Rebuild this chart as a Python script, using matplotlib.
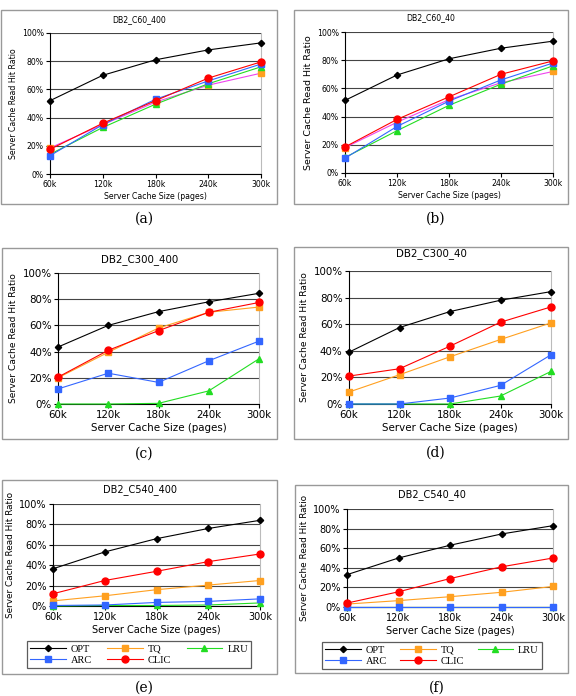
import matplotlib
matplotlib.use("Agg")
import matplotlib.pyplot as plt
from matplotlib.patches import Rectangle

plt.rcParams['font.family'] = ['DejaVu Sans']

sizes = ["60k", "120k", "180k", "240k", "300k"]
series_names = ["OPT", "TQ", "LRU", "ARC", "CLIC"]

# panel (a) DB2_C60_400
a_opt = [52, 70, 81, 88, 93]
a_tq = [18.5, 35, 51, 63, 71.5]
a_lru = [14, 33, 49.5, 64, 76]
a_arc = [13, 35, 53, 66, 78]
a_clic = [17.5, 36, 52, 68, 79.5]

# panel (b) DB2_C60_40
b_opt = [51.5, 69.5, 81, 88.5, 93.5]
b_tq = [18, 36, 52, 64, 72]
b_lru = [11, 30, 48, 63, 76]
b_arc = [10.5, 33, 51, 66, 78]
b_clic = [18.5, 38, 54, 70, 79.5]

# panel (c) DB2_C300_400
c_opt = [43.5, 60, 70.5, 78, 84.5]
c_tq = [20, 39.5, 58, 70, 74]
c_lru = [0, 0, 0.5, 10, 34.5]
c_arc = [11.5, 23.5, 16.5, 33, 48]
c_clic = [20.5, 41, 56, 70, 77.5]

# panel (d) DB2_C300_40
d_opt = [39, 57.5, 69.5, 78, 84.5]
d_tq = [9, 22, 35.5, 48.5, 61]
d_lru = [0, 0, 0, 6, 24.5]
d_arc = [0, 0, 4.5, 14, 37]
d_clic = [21, 26.5, 43.5, 61.5, 73]

# panel (e) DB2_C540_400
e_opt = [36.5, 53, 66, 76, 84]
e_tq = [5, 10, 16, 20.5, 25]
e_lru = [0, 0.5, 0.5, 1, 3]
e_arc = [0.5, 1, 3.5, 4.5, 7]
e_clic = [12, 25, 34, 43.5, 51]

# panel (f) DB2_C540_40
f_opt = [33, 50, 63, 74.5, 83]
f_tq = [3, 6.5, 10.5, 15, 21]
f_lru = [0, 0, 0, 0, 0]
f_arc = [0, 0, 0, 0, 0]
f_clic = [4, 15.5, 29, 41, 50]

W, H = 576, 696
fig = plt.figure(figsize=(W / 100, H / 100), dpi=100)

def fx(px):
    return px / W

def fy(py):
    return 1 - py / H

colors = {"OPT": "#000000", "TQ": "#FFA020", "LRU": "#22DD22",
          "ARC": "#3366FF", "CLIC": "#FF0000"}
markers = {"OPT": "D", "TQ": "s", "LRU": "^", "ARC": "s", "CLIC": "o"}
msizes = {"OPT": 3.2, "TQ": 4.5, "LRU": 4.5, "ARC": 4.5, "CLIC": 5.0}

panels = [
    dict(title="DB2_C60_400", cap="(a)", data=[a_opt, a_tq, a_lru, a_arc, a_clic],
         ax=(50, 261, 33, 174), box=(1, 277, 10, 204), fs=5.6, lfs=5.6, tq_line="#EE44EE",
         ty=20, capy=219, legend=None),
    dict(title="DB2_C60_40", cap="(b)", data=[b_opt, b_tq, b_lru, b_arc, b_clic],
         ax=(345, 553, 32, 173), box=(294, 568, 10, 204), fs=5.6, lfs=6.8, tq_line="#EE44EE",
         ty=18, capy=219, legend=None),
    dict(title="DB2_C300_400", cap="(c)", data=[c_opt, c_tq, c_lru, c_arc, c_clic],
         ax=(58, 259, 273, 404), box=(2, 277, 248, 439), fs=7.4, lfs=6.6, tq_line=None,
         ty=260, capy=454, legend=None),
    dict(title="DB2_C300_40", cap="(d)", data=[d_opt, d_tq, d_lru, d_arc, d_clic],
         ax=(349, 551, 271, 404), box=(294, 568, 247, 439), fs=7.4, lfs=6.6, tq_line=None,
         ty=254, capy=453, legend=None),
    dict(title="DB2_C540_400", cap="(e)", data=[e_opt, e_tq, e_lru, e_arc, e_clic],
         ax=(53, 260, 504, 606), box=(2, 277, 480, 674), fs=7.0, lfs=6.4, tq_line=None,
         ty=490, capy=688, legend=(27, 251, 639, 670)),
    dict(title="DB2_C540_40", cap="(f)", data=[f_opt, f_tq, f_lru, f_arc, f_clic],
         ax=(347, 553, 509, 607), box=(295, 568, 485, 673), fs=7.0, lfs=6.4, tq_line=None,
         ty=495, capy=688, legend=(322, 542, 640, 671)),
]

xs = list(range(len(sizes)))

for p in panels:
    l, r, t, b = p["box"]
    fig.patches.append(Rectangle((fx(l), fy(b)), fx(r - l), (b - t) / H,
                                 transform=fig.transFigure, fill=False,
                                 edgecolor="#999999", linewidth=1.0))
    l, r, t, b = p["ax"]
    ax = fig.add_axes([fx(l), fy(b), fx(r - l), (b - t) / H])
    handles = {}
    for name, vals in zip(series_names, p["data"]):
        lc = colors[name]
        if name == "TQ" and p["tq_line"]:
            lc = p["tq_line"]
        ln, = ax.plot(xs, vals, color=lc, linewidth=0.8, marker=markers[name],
                      markersize=msizes[name], markerfacecolor=colors[name],
                      markeredgecolor=colors[name], label=name, clip_on=False,
                      zorder=3)
        handles[name] = ln
    ax.set_xlim(0, 4)
    ax.set_ylim(0, 100)
    ax.set_xticks(xs)
    ax.set_xticklabels(sizes, fontsize=p["fs"])
    ax.set_yticks([0, 20, 40, 60, 80, 100])
    ax.set_yticklabels(["0%", "20%", "40%", "60%", "80%", "100%"], fontsize=p["fs"])
    ax.tick_params(axis="both", length=3, width=0.8, pad=1.5, direction="out")
    ax.grid(axis="y", color="#444444", linewidth=0.8)
    ax.set_axisbelow(True)
    ax.spines["top"].set_visible(False)
    ax.spines["right"].set_color("#BBBBBB")
    ax.spines["left"].set_color("black")
    ax.spines["bottom"].set_color("black")
    ax.set_xlabel("Server Cache Size (pages)", fontsize=p["fs"], labelpad=2)
    ax.set_ylabel("Server Cache Read Hit Ratio", fontsize=p["lfs"], labelpad=3)
    cx = (p["box"][0] + p["box"][1]) / 2
    fig.text(fx(cx), fy(p["ty"]), p["title"], fontsize=p["fs"], ha="center", va="center")
    fig.text(fx(cx + 5), fy(p["capy"]), p["cap"], fontsize=10, ha="center", va="center",
             family="DejaVu Serif")
    if p["legend"]:
        ll, lr, lt, lb = p["legend"]
        order = ["OPT", "ARC", "TQ", "CLIC", "LRU"]
        leg = ax.legend([handles[n] for n in order], order, ncol=3,
                        bbox_to_anchor=(fx(ll), fy(lb), fx(lr - ll), (lb - lt) / H),
                        bbox_transform=fig.transFigure, loc="center", mode="expand",
                        prop={"family": "Liberation Serif", "size": 7.5},
                        frameon=True, fancybox=False, edgecolor="#333333",
                        borderpad=0.3, labelspacing=0.15, handlelength=3.4,
                        handletextpad=0.5, columnspacing=0.8, borderaxespad=0)
        leg.get_frame().set_linewidth(0.9)

fig.savefig("out.png", dpi=100)
